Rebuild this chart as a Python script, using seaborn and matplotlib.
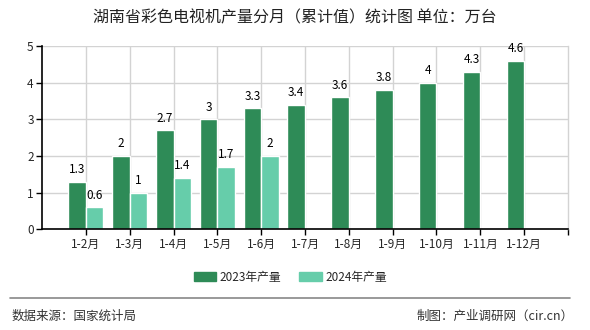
import matplotlib
matplotlib.use("Agg")
import matplotlib.pyplot as plt
import seaborn as sns
import pandas as pd
from matplotlib.lines import Line2D

# Monthly cumulative output of colour TV sets in Hunan (unit: 10k sets)
months = ["1-2月", "1-3月", "1-4月", "1-5月", "1-6月", "1-7月",
          "1-8月", "1-9月", "1-10月", "1-11月", "1-12月"]
output_2023 = [1.3, 2, 2.7, 3, 3.3, 3.4, 3.6, 3.8, 4, 4.3, 4.6]
output_2024 = [0.6, 1, 1.4, 1.7, 2]
series_names = ["2023年产量", "2024年产量"]
colors = ["#2E8B57", "#66CDAA"]
y_ticks = [0, 1, 2, 3, 4, 5]

rows = []
for m, v in zip(months, output_2023):
    rows.append({"month": m, "series": series_names[0], "value": v})
for m, v in zip(months, output_2024):
    rows.append({"month": m, "series": series_names[1], "value": v})
df = pd.DataFrame(rows)

sns.set_theme(style="white")
plt.rcParams["font.family"] = ["Noto Sans CJK SC", "DejaVu Sans"]

fig = plt.figure(figsize=(5.9, 3.3), dpi=100)
ax = fig.add_axes([0.0712, 0.3052, 0.8915, 0.5554])

sns.barplot(data=df, x="month", y="value", hue="series", order=months,
            hue_order=series_names, palette=colors, width=0.8,
            saturation=1, ax=ax, legend=False, errorbar=None)

for cont in ax.containers:
    ax.bar_label(cont, fmt="%g", padding=4, fontsize=8.5, color="#000000")

ax.set_xlim(-1, len(months))
ax.set_ylim(0, 5)
ax.set_yticks(y_ticks)
ax.set_xlabel("")
ax.set_ylabel("")
ax.set_axisbelow(True)
ax.grid(True, axis="both", color="#d3d3d3", linewidth=1)
ax.set_xticks(range(len(months)))
ax.set_xticks([len(months)], minor=True)
ax.tick_params(axis="x", which="both", direction="out", length=4,
               width=1, color="#000000", bottom=True, labelsize=8.5, pad=2)
ax.tick_params(axis="y", direction="out", length=4, width=1,
               color="#000000", left=True, labelsize=8.5, pad=2)

for side in ("left", "bottom"):
    ax.spines[side].set_color("#000000")
    ax.spines[side].set_linewidth(1.2)
ax.spines["top"].set_visible(False)
ax.spines["right"].set_color("#d3d3d3")
ax.spines["right"].set_linewidth(1)

fig.text(0.5, 0.947, "湖南省彩色电视机产量分月（累计值）统计图 单位：万台",
         ha="center", va="center", fontsize=11.5, color="#222222")

handles = [plt.Rectangle((0, 0), 1, 1, color=c) for c in colors]
fig.legend(handles, series_names, loc="center", bbox_to_anchor=(0.492, 0.16),
           ncol=2, frameon=False, fontsize=8.5, handlelength=1.9,
           handleheight=0.75, handletextpad=0.3, columnspacing=1.5)

fig.add_artist(Line2D([10 / 590, 570 / 590], [1 - 298 / 330, 1 - 298 / 330],
                      color="#888888", linewidth=1.2))
fig.text(12 / 590, 1 - 316 / 330, "数据来源：国家统计局", ha="left",
         va="center", fontsize=9, color="#333333")
fig.text(574 / 590, 1 - 316 / 330, "制图：产业调研网（cir.cn）", ha="right",
         va="center", fontsize=9, color="#333333")

fig.savefig("out.png", dpi=100)
